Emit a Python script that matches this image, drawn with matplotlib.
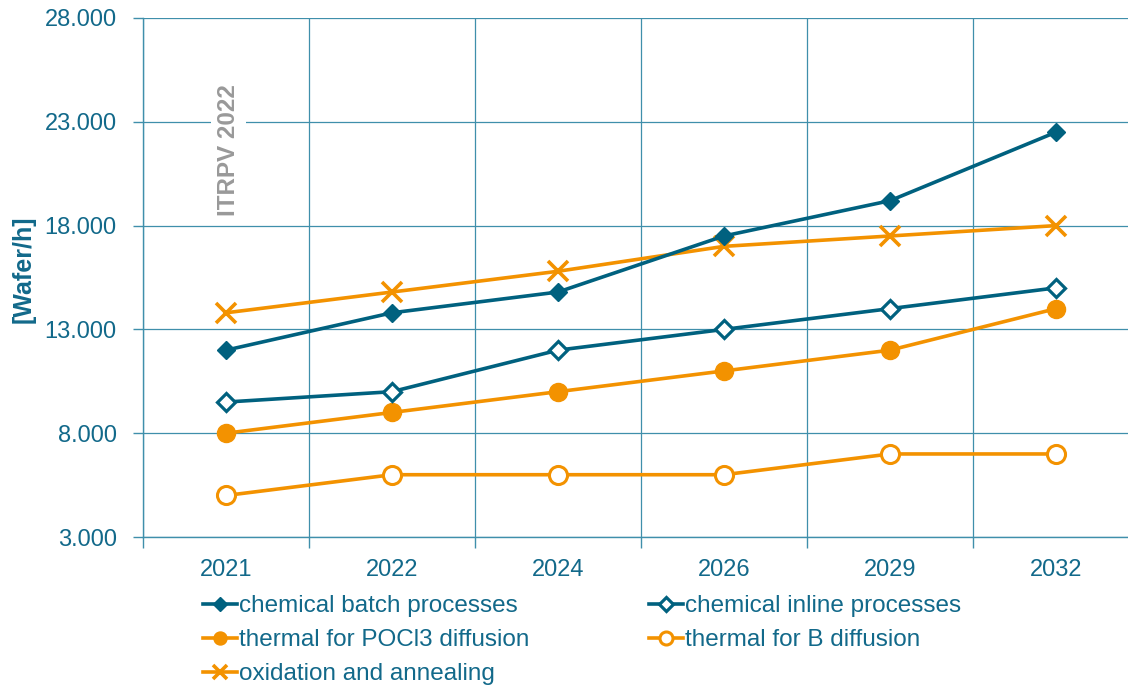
import numpy as np
import matplotlib.pyplot as plt
from matplotlib.ticker import FuncFormatter, FixedLocator

plt.rcParams['font.family'] = ['Liberation Sans', 'DejaVu Sans']

# throughput per tool type, wafer per hour
years = ['2021', '2022', '2024', '2026', '2029', '2032']
chem_batch = [12000, 13800, 14800, 17500, 19200, 22500]
chem_inline = [9500, 10000, 12000, 13000, 14000, 15000]
thermal_pocl3 = [8000, 9000, 10000, 11000, 12000, 14000]
thermal_b = [5000, 6000, 6000, 6000, 7000, 7000]
oxidation = [13800, 14800, 15800, 17000, 17500, 18000]

teal = '#00617f'
orange = '#f39200'
txt = '#12698a'
grid = '#3f8fab'

fig = plt.figure(figsize=(11.28, 6.87), dpi=100)
ax = fig.add_axes([143/1128, 1-537/687, 996/1128, 519/687])

x = np.arange(len(years))
lw = 2.6
h1, = ax.plot(x, chem_batch, color=teal, lw=lw, marker='D', ms=9.5,
              label='chemical batch processes', zorder=5)
h2, = ax.plot(x, chem_inline, color=teal, lw=lw, marker='D', ms=9.5, mfc='white',
              mew=2.3, label='chemical inline processes', zorder=5)
h3, = ax.plot(x, thermal_pocl3, color=orange, lw=lw, marker='o', ms=13,
              label='thermal for POCl3 diffusion', zorder=4)
h4, = ax.plot(x, thermal_b, color=orange, lw=lw, marker='o', ms=13, mfc='white',
              mew=2.2, label='thermal for B diffusion', zorder=4)
h5, = ax.plot(x, oxidation, color=orange, lw=lw, marker='x', ms=14, mew=2.6,
              label='oxidation and annealing', zorder=4)

ax.set_xlim(-0.5, len(years) - 0.5)
ax.set_ylim(3000, 28000)
ax.set_yticks(np.arange(3000, 28001, 5000))
ax.yaxis.set_major_formatter(FuncFormatter(lambda v, p: f'{int(v):,}'.replace(',', '.')))
ax.set_xticks(x)
ax.set_xticklabels(years)
ax.xaxis.set_minor_locator(FixedLocator(np.arange(-0.5, len(years), 1)))

ax.tick_params(axis='x', which='major', length=0, pad=16, labelsize=17, labelcolor=txt)
ax.tick_params(axis='x', which='minor', length=8, width=1, color=grid, direction='out')
ax.tick_params(axis='y', length=7, width=1, color=grid, pad=12, labelsize=17, labelcolor=txt)

ax.grid(axis='y', which='major', color=grid, lw=0.9)
ax.grid(axis='x', which='minor', color=grid, lw=0.9)
ax.set_axisbelow(True)
for side in ['top', 'right']:
    ax.spines[side].set_visible(False)
for side in ['left', 'bottom']:
    ax.spines[side].set_color(grid)
    ax.spines[side].set_linewidth(1)

ax.set_ylabel('[Wafer/h]', fontsize=18, fontweight='bold', color=txt)
ax.yaxis.set_label_coords(-0.108, 0.515)

ax.text(0.015, 21650, 'ITRPV 2022', rotation=90, ha='center', va='center',
        fontsize=17.5, fontweight='bold', color='#999999', zorder=3,
        bbox=dict(facecolor='white', edgecolor='none', pad=4))

# legend fills row by row: two entries per row
fig.legend([h1, h3, h5, h2, h4], [h.get_label() for h in (h1, h3, h5, h2, h4)],
           loc='upper left', bbox_to_anchor=(203/1128, 1-595/687), ncol=2,
           frameon=False, fontsize=17.5, labelcolor=txt, handlelength=1.4,
           handletextpad=0.1, columnspacing=4.9, labelspacing=0.5,
           borderpad=0, borderaxespad=0, markerscale=0.72)

fig.savefig('out.png', dpi=100)
